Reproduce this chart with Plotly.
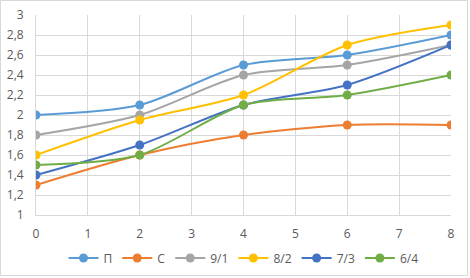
import plotly.graph_objects as go

x_vals = [0, 2, 4, 6, 8]
series_names = ["П", "С", "9/1", "8/2", "7/3", "6/4"]
s_P = [2.0, 2.1, 2.5, 2.6, 2.8]
s_C = [1.3, 1.6, 1.8, 1.9, 1.9]
s_91 = [1.8, 2.0, 2.4, 2.5, 2.7]
s_82 = [1.6, 1.95, 2.2, 2.7, 2.9]
s_73 = [1.4, 1.7, 2.1, 2.3, 2.7]
s_64 = [1.5, 1.6, 2.1, 2.2, 2.4]
colors = ["#5B9BD5", "#ED7D31", "#A5A5A5", "#FFC000", "#4472C4", "#70AD47"]
y_tick_vals = [1, 1.2, 1.4, 1.6, 1.8, 2, 2.2, 2.4, 2.6, 2.8, 3]
y_tick_text = ["1", "1,2", "1,4", "1,6", "1,8", "2", "2,2", "2,4", "2,6", "2,8", "3"]

W, H = 470, 278
ml, mr, mt, mb = 36, 19, 15, 63
pw, ph = W - ml - mr, H - mt - mb

fig = go.Figure()
for name, ys, c in zip(series_names, [s_P, s_C, s_91, s_82, s_73, s_64], colors):
    fig.add_trace(go.Scatter(
        x=x_vals, y=ys, name=name, mode="lines+markers",
        line=dict(color=c, width=2, shape="spline", smoothing=0.8),
        marker=dict(color=c, size=9),
    ))

fig.update_layout(
    width=W, height=H,
    margin=dict(l=ml, r=mr, t=mt, b=mb, autoexpand=False),
    paper_bgcolor="white", plot_bgcolor="white",
    font=dict(family="Open Sans, Liberation Sans, sans-serif", size=12, color="#595959"),
    showlegend=True,
    legend=dict(orientation="h", x=0.5, xanchor="center", y=-0.215, yanchor="middle",
                font=dict(size=12, color="#595959"), itemwidth=30, tracegroupgap=0),
    xaxis=dict(range=[0, 8], dtick=1, tick0=0, showgrid=True, gridcolor="#D9D9D9", gridwidth=1,
               zeroline=False, showline=True, linecolor="#D9D9D9", ticks="outside", ticklen=8,
               tickcolor="rgba(0,0,0,0)", automargin=False,
               tickfont=dict(size=12, color="#595959")),
    yaxis=dict(range=[1, 3], tickvals=y_tick_vals, ticktext=y_tick_text, showgrid=True,
               gridcolor="#D9D9D9", gridwidth=1, zeroline=False, showline=True,
               linecolor="#D9D9D9", ticks="outside", ticklen=9, tickcolor="rgba(0,0,0,0)",
               automargin=False, tickfont=dict(size=12, color="#595959")),
    shapes=[dict(type="rect", xref="paper", yref="paper",
                 x0=(0.5 - ml) / pw, x1=(W - 2.5 - ml) / pw,
                 y0=-(mb - 2.5) / ph, y1=(ph + mt - 0.5) / ph,
                 line=dict(color="#D9D9D9", width=1), fillcolor="rgba(0,0,0,0)")],
)
fig.write_html("out.html", config={"displayModeBar": False},
               post_script="document.body.style.margin='0';")
